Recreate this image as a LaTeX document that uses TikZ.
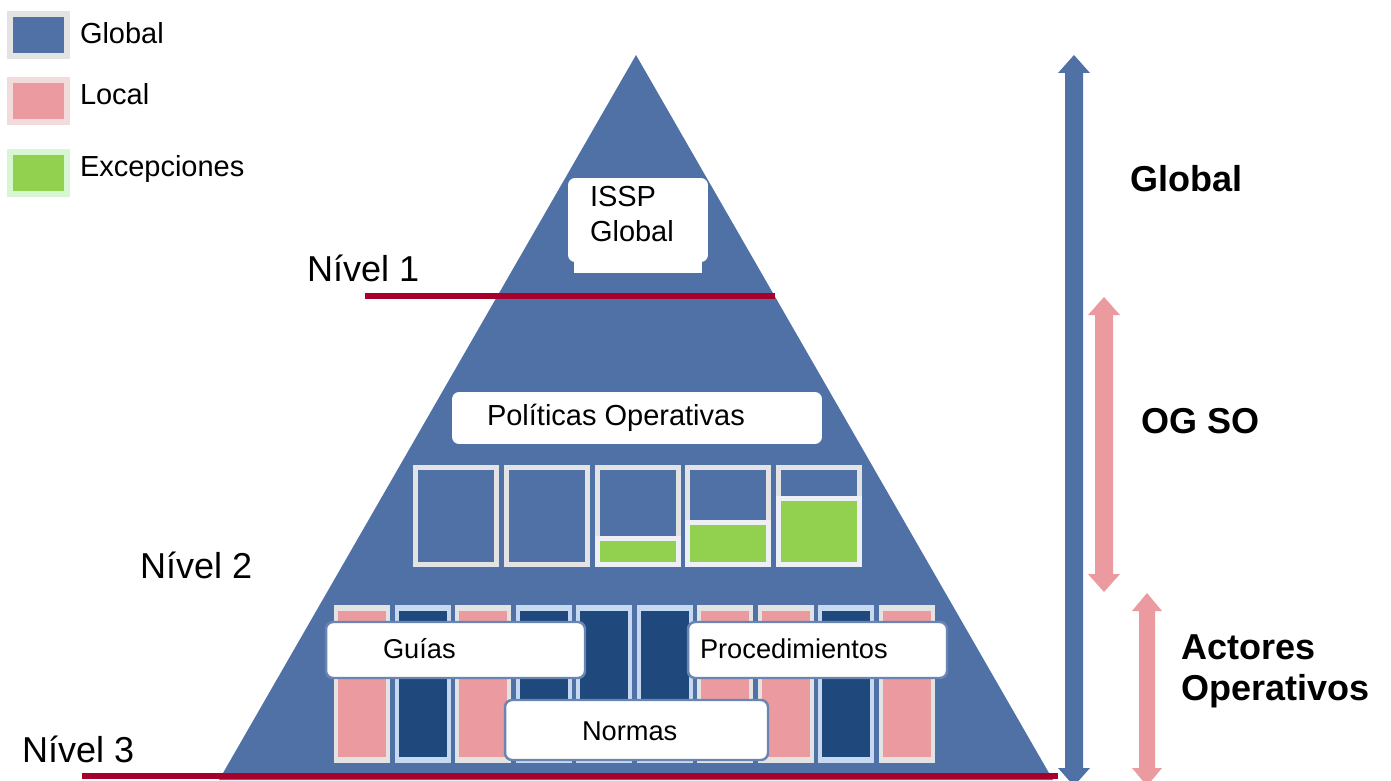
\documentclass[tikz,border=0pt]{standalone}
\usepackage{fontspec}
\setmainfont{Liberation Sans}
\usetikzlibrary{positioning}
\definecolor{pyrblue}{HTML}{4F71A6}
\definecolor{darkcol}{HTML}{1F487C}
\definecolor{pinkcol}{HTML}{EB9AA0}
\definecolor{greencol}{HTML}{92D050}
\definecolor{framegray}{HTML}{E3E3E3}
\definecolor{framelav}{HTML}{EFEFF8}
\definecolor{frameblue}{HTML}{C6D9F0}
\definecolor{linered}{HTML}{A6002C}
\definecolor{legpink}{HTML}{F2DCDB}
\definecolor{leggreen}{HTML}{D7F7D2}

% double arrow: colour, x centre, y top, y bottom, shaft half width, head half width
\newcommand{\dblarrow}[6]{%
  \fill[#1] (#2,#3) -- (#2+#6,#3+18) -- (#2+#5,#3+18) -- (#2+#5,#4-18) -- (#2+#6,#4-18)
    -- (#2,#4) -- (#2-#6,#4-18) -- (#2-#5,#4-18) -- (#2-#5,#3+18) -- (#2-#6,#3+18) -- cycle;}

\begin{document}
\begin{tikzpicture}[x=0.02cm,y=-0.02cm,inner sep=0pt,outer sep=0pt]
    \tikzset{txt/.style={anchor=base west,font=\fontsize{16.5}{19}\selectfont}}
    \tikzset{niveltxt/.style={anchor=base west,font=\fontsize{20.5}{24}\selectfont}}
    \tikzset{boldtxt/.style={anchor=base west,font=\fontsize{20.5}{24}\selectfont\bfseries}}
    \tikzset{smalltxt/.style={anchor=base west,font=\fontsize{15.5}{18}\selectfont}}
    \tikzset{legbox/.style={shape=rectangle,minimum width=1.14cm,minimum height=0.84cm,line width=0.12cm,draw}}
    \tikzset{whitebox/.style={shape=rectangle,fill=white,rounded corners=4pt}}
    \tikzset{docbox/.style={whitebox,draw=pyrblue!85!white,line width=1.4pt,minimum width=5.18cm,minimum height=1.12cm}}
    \tikzset{redline/.style={linered,line width=3pt}}

    \useasboundingbox (0,0) rectangle (1391,780);

    % legend
    \node [legbox,draw=framegray,fill=pyrblue] (legglobal) at (38.5,35) {};
    \node [legbox,draw=legpink,fill=pinkcol] (leglocal) at (38.5,101) {};
    \node [legbox,draw=leggreen,fill=greencol] (legexc) at (38.5,173) {};
    \node [txt] (legglobaltxt) at (80,44) {Global};
    \node [txt] (leglocaltxt) at (80,105) {Local};
    \node [txt] (legexctxt) at (80,177) {Excepciones};

    % pyramid
    \fill[pyrblue] (636,55) -- (1053,780) -- (219,780) -- cycle;

    % level 1
    \node [whitebox,minimum width=2.8cm,minimum height=1.68cm] (issp) at (638,220) {};
    \fill[white] (574,250) rectangle (702,273);
    \node [txt] (issptxt) at (590,207) {ISSP};
    \node [txt] (isspglobal) at (590,242) {Global};
    \draw[redline] (365,296) -- (775,296);
    \node [niveltxt] (nivel1) at (307,281) {Nível 1};

    % level 2
    \node [whitebox,minimum width=7.4cm,minimum height=1.04cm] (politicas) at (637,418) {};
    \node [txt] (politicastxt) at (487,425) {Políticas Operativas};
    \foreach \i in {0,...,4} {
        \fill[framegray] (413+90.8*\i,465) rectangle ++(86,102);
        \fill[pyrblue] (418+90.8*\i,470) rectangle ++(76,92);
    }
    \foreach \i/\s in {2/536,3/520,4/496} {
        \fill[framelav] (413+90.8*\i,\s) rectangle (499+90.8*\i,567);
        \fill[greencol] (418+90.8*\i,\s+5) rectangle (494+90.8*\i,562);
    }
    \node [niveltxt] (nivel2) at (140,578) {Nível 2};

    % level 3
    \foreach \i/\c/\f in {0/pinkcol/framegray,1/darkcol/frameblue,2/pinkcol/framegray,3/darkcol/frameblue,
                          4/darkcol/frameblue,5/darkcol/frameblue,6/pinkcol/framegray,7/pinkcol/framegray,
                          8/darkcol/frameblue,9/pinkcol/framegray} {
        \fill[\f] (334+60.5*\i,605) rectangle ++(56,158);
        \fill[\c] (338+60.5*\i,611) rectangle ++(48,146);
    }
    \node [docbox] (guias) at (455.5,650) {};
    \node [docbox] (procedimientos) at (817.5,650) {};
    \node [docbox,minimum width=5.26cm,minimum height=1.2cm] (normas) at (636.5,730) {};
    \node [smalltxt] (guiastxt) at (383,658) {Guías};
    \node [smalltxt] (proctxt) at (700,658) {Procedimientos};
    \node [smalltxt] (normastxt) at (582,740) {Normas};
    \draw[redline] (82,776) -- (1058,776);
    \node [niveltxt] (nivel3) at (22,762) {Nível 3};

    % scope arrows
    \dblarrow{pyrblue}{1074}{55}{786}{9}{16}
    \dblarrow{pinkcol}{1104}{297}{592}{9}{16}
    \dblarrow{pinkcol}{1147}{593}{786}{8}{15}
    \node [boldtxt] (globaltxt) at (1130,192) {Global};
    \node [boldtxt] (ogsotxt) at (1141,433) {OG SO};
    \node [boldtxt] (actorestxt) at (1181,659) {Actores};
    \node [boldtxt] (operativostxt) at (1181,700) {Operativos};
\end{tikzpicture}
\end{document}
